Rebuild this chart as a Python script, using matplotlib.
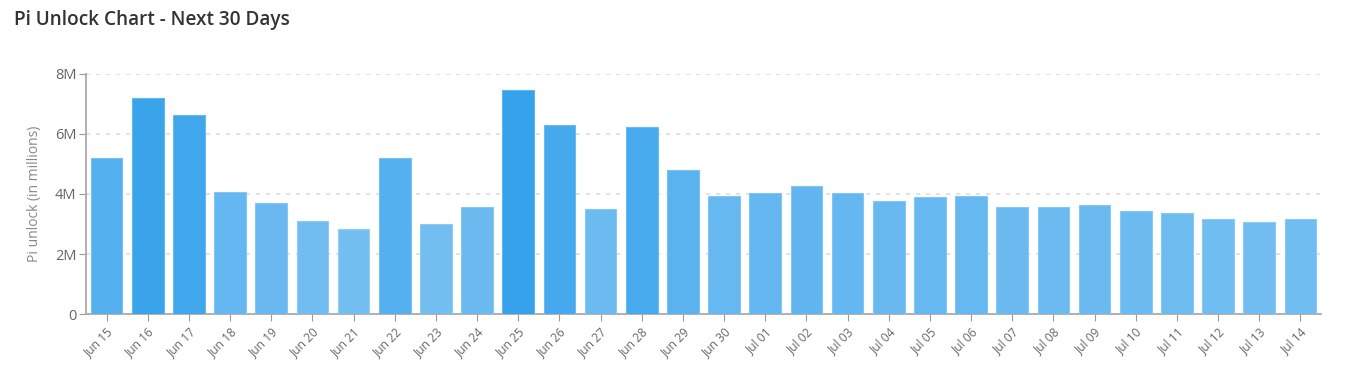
import numpy as np
import matplotlib
matplotlib.use("Agg")
import matplotlib.pyplot as plt
from matplotlib.ticker import FuncFormatter

# Data (Pi unlock, millions)
dates = ["Jun 15", "Jun 16", "Jun 17", "Jun 18", "Jun 19", "Jun 20", "Jun 21",
         "Jun 22", "Jun 23", "Jun 24", "Jun 25", "Jun 26", "Jun 27", "Jun 28",
         "Jun 29", "Jun 30", "Jul 01", "Jul 02", "Jul 03", "Jul 04", "Jul 05",
         "Jul 06", "Jul 07", "Jul 08", "Jul 09", "Jul 10", "Jul 11", "Jul 12",
         "Jul 13", "Jul 14"]
unlock = [5.19, 7.19, 6.63, 4.08, 3.69, 3.10, 2.83, 5.21, 3.00, 3.57,
          7.46, 6.30, 3.50, 6.24, 4.80, 3.92, 4.04, 4.26, 4.02, 3.77,
          3.90, 3.92, 3.57, 3.56, 3.63, 3.44, 3.36, 3.17, 3.08, 3.17]
y_ticks = [0, 2, 4, 6, 8]

plt.rcParams['font.family'] = ['Open Sans', 'DejaVu Sans']

fig = plt.figure(figsize=(13.51, 3.72), dpi=100)
ax = fig.add_axes([0.0637, 0.1559, 0.9141, 0.6452])

# bar colour: base blue blended with white, stronger for bigger values
base = np.array([54, 162, 235]) / 255.0
vmax = max(unlock)
colors, edges = [], []
for v in unlock:
    a = 0.5 + 0.5 * v / vmax
    colors.append(1 - a * (1 - base))
    edges.append(1 - 0.8 * a * (1 - base))

x = np.arange(len(dates))
ax.bar(x, unlock, width=0.77, color=colors, edgecolor=edges, linewidth=0.8, zorder=3)

ax.set_xlim(-0.5, len(dates) - 0.5)
ax.set_ylim(0, 8)
ax.set_yticks(y_ticks)
ax.yaxis.set_major_formatter(FuncFormatter(lambda v, p: "0" if v == 0 else f"{int(v)}M"))
ax.set_xticks(x)
ax.set_xticklabels(dates, rotation=45, ha='right', rotation_mode='anchor',
                   fontsize=8.6, color='#666666')
ax.tick_params(axis='x', length=5, color='#999999', pad=3)
ax.tick_params(axis='y', length=5, color='#999999', labelsize=10.5, labelcolor='#666666', pad=2)

ax.grid(axis='y', color='#dddddd', linestyle=(0, (2.5, 3.5)), linewidth=1.2, zorder=0)
for s in ['top', 'right']:
    ax.spines[s].set_visible(False)
for s in ['left', 'bottom']:
    ax.spines[s].set_color('#aaaaaa')
    ax.spines[s].set_linewidth(1.3)

ax.set_ylabel("Pi unlock (in millions)", fontsize=10, color='#888888', labelpad=9)

fig.text(0.0104, 0.945, "Pi Unlock Chart - Next 30 Days", fontsize=13.7,
         fontweight='semibold', color='#333333', va='center', ha='left')

fig.savefig("out.png", dpi=100)
